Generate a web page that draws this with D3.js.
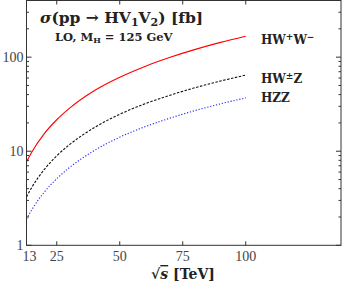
<!DOCTYPE html>
<html>
<head>
<meta charset="utf-8">
<style>
  body { margin: 0; background: #fff; }
  svg { display: block; }
  .tick-label { font: 14px "Liberation Serif", serif; fill: #444; }
  .curve-label { font: bold 12px "DejaVu Serif", serif; fill: #222; }
</style>
</head>
<body>
<svg width="342" height="283"></svg>
<script src="https://cdn.jsdelivr.net/npm/d3@7"></script>
<script>
// sqrt(s) in TeV
var energies = [13, 15, 20, 25, 30, 40, 50, 60, 70, 80, 90, 100];
// cross sections in fb
var hww = [7.7, 9.7, 15.3, 21.6, 28.5, 44.1, 61.1, 79.7, 99.7, 121, 143.5, 167];
var hwz = [3.27, 4.08, 6.37, 8.94, 11.7, 17.9, 24.7, 31.9, 39.4, 47.4, 55.7, 64.4];
var hzz = [1.9, 2.36, 3.66, 5.1, 6.69, 10.2, 14.1, 18.2, 22.5, 27.1, 31.9, 36.9];
var xTicks = [13, 25, 50, 75, 100];
var yTicks = [1, 10, 100];

var svg = d3.select("svg");
var pl = 26.5, pr = 341, pt = 0.5, pb = 245.3;

var x = d3.scaleLinear().domain([13, 137.8]).range([pl, pr]);
var y = d3.scaleLog().domain([1, 400]).range([pb, pt]);

var series = [
  { vals: hww, color: "#f00", dash: null },
  { vals: hwz, color: "#111", dash: "2.5,1.5" },
  { vals: hzz, color: "#22f", dash: "1.2,1.8" }
];

var line = d3.line()
    .x(function(d) { return x(d[0]); })
    .y(function(d) { return y(d[1]); })
    .curve(d3.curveMonotoneX);

series.forEach(function(s) {
  svg.append("path")
    .datum(energies.map(function(e, i) { return [e, s.vals[i]]; }))
    .attr("d", line)
    .attr("fill", "none")
    .attr("stroke", s.color)
    .attr("stroke-width", 1.1)
    .attr("stroke-dasharray", s.dash);
});

// frame
svg.append("rect")
  .attr("x", pl).attr("y", pt)
  .attr("width", pr - pl).attr("height", pb - pt)
  .attr("fill", "none").attr("stroke", "#333").attr("stroke-width", 1);

// x ticks, inward on bottom and top
var gx = svg.append("g");
xTicks.filter(function(t) { return t != 13; }).forEach(function(t) {
  gx.append("line").attr("x1", x(t)).attr("x2", x(t))
    .attr("y1", pb).attr("y2", pb - 4).attr("stroke", "#333");
  gx.append("line").attr("x1", x(t)).attr("x2", x(t))
    .attr("y1", pt).attr("y2", pt + 4).attr("stroke", "#333");
});
xTicks.forEach(function(t) {
  gx.append("text").attr("class", "tick-label")
    .attr("x", x(t) + (t == 13 ? 3 : 0)).attr("y", pb + 16)
    .attr("text-anchor", "middle").text(t);
});

// y ticks, log minors
var gy = svg.append("g");
var minors = [];
[1, 10, 100].forEach(function(d) {
  for (var k = 2; k <= 9; k++) if (d * k <= 400) minors.push(d * k);
});
minors.forEach(function(v) {
  gy.append("line").attr("x1", pl).attr("x2", pl + 2.5)
    .attr("y1", y(v)).attr("y2", y(v)).attr("stroke", "#333");
  gy.append("line").attr("x1", pr).attr("x2", pr - 2.5)
    .attr("y1", y(v)).attr("y2", y(v)).attr("stroke", "#333");
});
yTicks.forEach(function(v) {
  gy.append("line").attr("x1", pl).attr("x2", pl + 5)
    .attr("y1", y(v)).attr("y2", y(v)).attr("stroke", "#333");
  gy.append("line").attr("x1", pr).attr("x2", pr - 5)
    .attr("y1", y(v)).attr("y2", y(v)).attr("stroke", "#333");
  gy.append("text").attr("class", "tick-label")
    .attr("x", pl - 3).attr("y", y(v) + 5)
    .attr("text-anchor", "end").text(v);
});

// axis title
var xt = svg.append("text")
  .attr("x", 183).attr("y", 279)
  .attr("text-anchor", "middle")
  .style("font", "bold 14px 'DejaVu Serif', serif").style("fill", "#222");
xt.append("tspan").text("√");
xt.append("tspan").style("font-style", "italic").style("text-decoration", "overline").text("s");
xt.append("tspan").text(" [TeV]");

// title
var title = svg.append("text")
  .attr("x", 40).attr("y", 23)
  .style("font", "bold 15.5px 'DejaVu Serif', serif").style("fill", "#222");
title.append("tspan").style("font-style", "italic").text("σ");
title.append("tspan").text("(pp → HV");
title.append("tspan").attr("dy", 3).style("font-size", "11px").text("1");
title.append("tspan").attr("dy", -3).text("V");
title.append("tspan").attr("dy", 3).style("font-size", "11px").text("2");
title.append("tspan").attr("dy", -3).text(") [fb]");

var sub = svg.append("text")
  .attr("x", 55).attr("y", 41)
  .style("font", "bold 11.5px 'DejaVu Serif', serif").style("fill", "#222");
sub.append("tspan").text("LO, M");
sub.append("tspan").attr("dy", 2).style("font-size", "8px").text("H");
sub.append("tspan").attr("dy", -2).text(" = 125 GeV");

// curve labels
var labels = [
  { parts: [["HW", 0], ["+", -4], ["W", 4], ["−", -4]], y: 44 },
  { parts: [["HW", 0], ["±", -4], ["Z", 4]], y: 83 },
  { parts: [["HZZ", 0]], y: 102 }
];
labels.forEach(function(l) {
  var t = svg.append("text").attr("class", "curve-label")
    .attr("x", 261).attr("y", l.y);
  l.parts.forEach(function(p) {
    var ts = t.append("tspan").attr("dy", p[1]).text(p[0]);
    if (p[1] < 0) ts.style("font-size", "9px");
  });
});
</script>
</body>
</html>
